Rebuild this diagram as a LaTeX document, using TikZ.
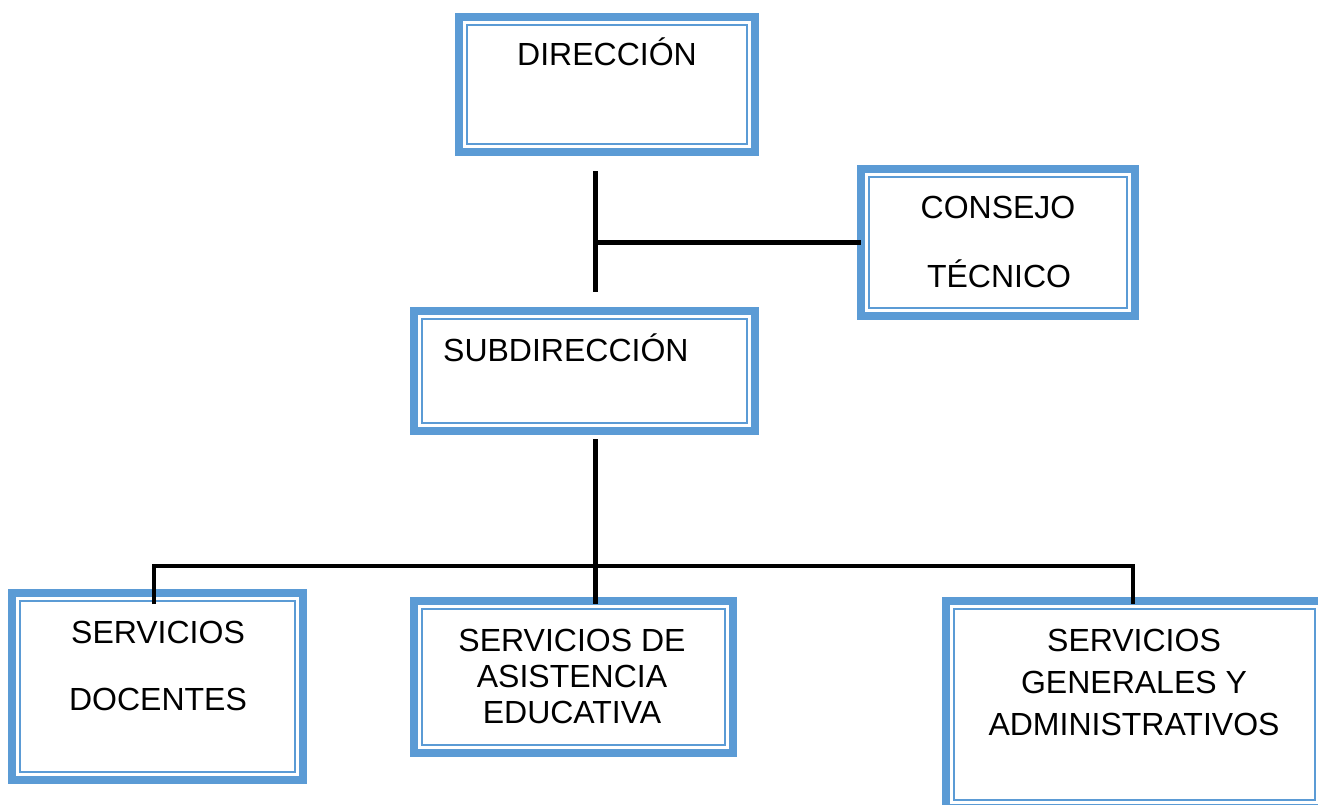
\documentclass[tikz,border=0pt]{standalone}
\usepackage{fontspec}
\setmainfont{Liberation Sans}
\definecolor{oblue}{HTML}{5B9BD5}
\newcommand\orgbox[5]{%
  \node[obox, minimum width={#4-#2-8}, minimum height={#5-#3-8}] (#1) at ({(#2+#4)/2},{(#3+#5)/2}) {};
  \draw[ithin] ([shift={(8,8)}]#1.north west) rectangle ([shift={(-8,-8)}]#1.south east);}
\begin{document}
\begin{tikzpicture}[x=1pt,y=-1pt,
  obox/.style={draw=oblue, line width=8pt, inner sep=0pt, outer sep=0pt, fill=white},
  ithin/.style={draw=oblue, line width=2pt},
  lbl/.style={font=\fontsize{32}{36}\selectfont, inner sep=0pt, anchor=base},
  conn/.style={draw=black, line width=4.5pt, line join=miter}]
\useasboundingbox (0,0) rectangle (1318,804);
\clip (0,0) rectangle (1318,804);
\fill[white] (0,0) rectangle (1318,804);
% boxes
\orgbox{dir}{455}{13}{759}{156}
\orgbox{con}{857}{165}{1139}{320}
\orgbox{sub}{410}{307}{759}{435}
\orgbox{doc}{8}{589}{307}{784}
\orgbox{asi}{410}{597}{737}{757}
\orgbox{gen}{942}{597}{1327}{812}
% texts
\node[lbl] (dirT) at (607,65) {DIRECCIÓN};
\node[lbl] (conT1) at (998,218) {CONSEJO};
\node[lbl] (conT2) at (999,287) {TÉCNICO};
\node[lbl, anchor=base west] (subT) at (443,361) {SUBDIRECCIÓN};
\node[lbl] (docT1) at (158,643) {SERVICIOS};
\node[lbl] (docT2) at (158,710) {DOCENTES};
\node[lbl] (asiT1) at (572,651) {SERVICIOS DE};
\node[lbl] (asiT2) at (572,687) {ASISTENCIA};
\node[lbl] (asiT3) at (572,723) {EDUCATIVA};
\node[lbl] (genT1) at (1134,651) {SERVICIOS};
\node[lbl] (genT2) at (1134,693) {GENERALES Y};
\node[lbl] (genT3) at (1134,735) {ADMINISTRATIVOS};
% connector points
\coordinate (a1) at (595.5,171);
\coordinate (a2) at (595.5,292);
\coordinate (aj) at (595.5,242.5);
\coordinate (b1) at (595.5,439);
\coordinate (b2) at (595.5,604);
\coordinate (l1) at (154,604);
\coordinate (l2) at (154,566);
\coordinate (r2) at (1133,566);
\coordinate (r1) at (1133,604);
\draw[conn] (a1) -- (a2);
\draw[conn] (aj) -- (con.west);
\draw[conn] (b1) -- (b2);
\draw[conn] (l1) -- (l2) -- (r2) -- (r1);
\end{tikzpicture}
\end{document}
